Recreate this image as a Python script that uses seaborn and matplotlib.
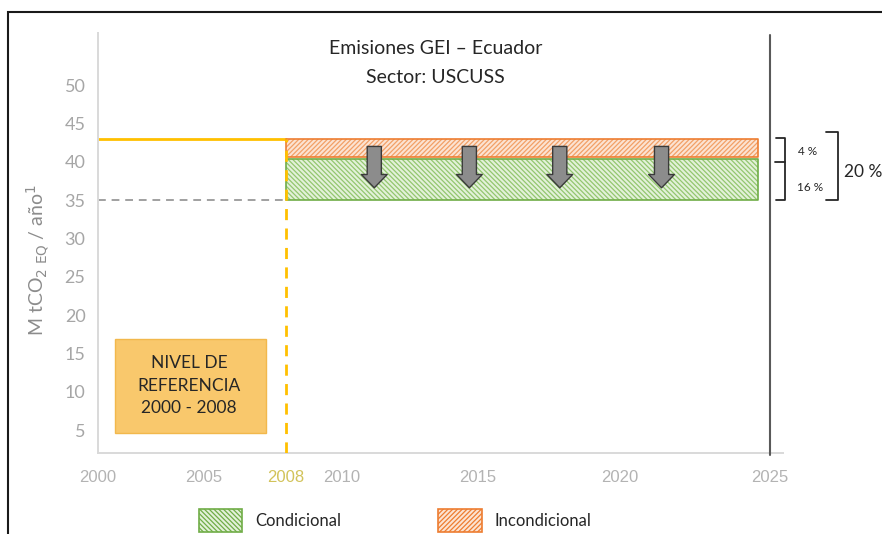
import numpy as np
import pandas as pd
import matplotlib
matplotlib.use("Agg")
import matplotlib.pyplot as plt
import matplotlib.transforms as mtransforms
from matplotlib.patches import Patch, Rectangle
import seaborn as sns

# ---------------------------------------------------------------
# Data
# ---------------------------------------------------------------
ref_years = [2000, 2008]          # reference period 2000 - 2008
ref_level = 43.0                  # reference emission level (Mt CO2 eq / yr)
target_years = [2008, 2024.6]     # commitment period drawn as bands
uncond_low = 40.6                 # top band: unconditional reduction (4 %)
cond_top = 40.3                   # bottom band: conditional reduction (16 %)
cond_low = 35.0
arrow_years = [2011.2, 2014.7, 2017.9, 2021.4]
x_ticks = [2000, 2005, 2008, 2010, 2015, 2020, 2025]
y_ticks = [5, 10, 15, 20, 25, 30, 35, 40, 45, 50]
pct_labels = ["4 %", "16 %", "20 %"]
legend_labels = ["Condicional", "Incondicional"]

# the original illustration spaces the years unevenly -> piecewise scale
SCALE_YEARS = [1990, 2000, 2005, 2008, 2010, 2015, 2020, 2025, 2035]
SCALE_POS = [-114, 98, 204, 286, 342, 478, 620, 771, 1071]


def fwd(x):
    return np.interp(x, SCALE_YEARS, SCALE_POS)


def inv(p):
    return np.interp(p, SCALE_POS, SCALE_YEARS)


# colours
YELLOW = "#ffc000"
GREEN_FILL = "#e3f1d9"
GREEN_HATCH = "#93c66f"
GREEN_EDGE = "#70ad47"
ORANGE_FILL = "#fce3d2"
ORANGE_HATCH = "#f2a066"
ORANGE_EDGE = "#ed7d31"
GRAY_TXT = "#a6a6a6"

# ---------------------------------------------------------------
# Figure
# ---------------------------------------------------------------
sns.set_theme(style="white")
plt.rcParams["font.family"] = ["Lato", "DejaVu Sans"]
plt.rcParams["hatch.linewidth"] = 0.9

fig = plt.figure(figsize=(8.82, 5.34), dpi=100)
ax = fig.add_axes([98 / 882, 1 - 453 / 534, 685 / 882, 420 / 534])
ax.set_xscale("function", functions=(fwd, inv))
ax.set_xlim(2000, 2025.43)
ax.set_ylim(2.0, 56.8)

# reference level line (solid) and dashed target level
ref_df = pd.DataFrame({"year": ref_years, "value": [ref_level, ref_level]})
sns.lineplot(data=ref_df, x="year", y="value", ax=ax, color=YELLOW, lw=2.0)
low_df = pd.DataFrame({"year": ref_years, "value": [cond_low, cond_low]})
sns.lineplot(data=low_df, x="year", y="value", ax=ax, color="#a0a0a0",
             lw=1.4, linestyle=(0, (4, 3)))

# vertical dashed marker at 2008
ax.plot([ref_years[1], ref_years[1]], [2.0, ref_level], color=YELLOW,
        lw=2.0, linestyle=(0, (4, 3)), zorder=4)

# hatched reduction bands (hatch first, then the outline)
ax.fill_between(target_years, uncond_low, ref_level, facecolor=ORANGE_FILL,
                edgecolor=ORANGE_HATCH, hatch="/" * 7, lw=0, zorder=2)
ax.fill_between(target_years, uncond_low, ref_level, facecolor="none",
                edgecolor=ORANGE_EDGE, lw=1.2, zorder=2)
ax.fill_between(target_years, cond_low, cond_top, facecolor=GREEN_FILL,
                edgecolor=GREEN_HATCH, hatch="\\" * 7, lw=0, zorder=2)
ax.fill_between(target_years, cond_low, cond_top, facecolor="none",
                edgecolor=GREEN_EDGE, lw=1.2, zorder=2)

# down arrows
for yr in arrow_years:
    ax.annotate("", xy=(yr, 36.6), xytext=(yr, 42.0),
                arrowprops=dict(arrowstyle="simple,head_length=0.8,head_width=1.55,tail_width=0.85",
                                fc="#8c8c8c", ec="#3a3a3a", lw=1.0, shrinkA=0, shrinkB=0),
                zorder=5)

# dark vertical line at 2025
ax.plot([2025, 2025], [1.7, 56.6], color="#595959", lw=1.5, clip_on=False, zorder=3)

# reference-level box
ax.add_patch(Rectangle((2000.8, 4.6), 2007.27 - 2000.8, 16.9 - 4.6,
                       facecolor="#f9c86c", edgecolor="#f2b84c", lw=1.0, zorder=3))
ax.text(2004.3, 10.8, "NIVEL DE\nREFERENCIA\n2000 - 2008", ha="center", va="center",
        fontsize=12.5, color="#262626", linespacing=1.5, zorder=4)

# title
ax.text(0.493, 0.962, "Emisiones GEI \u2013 Ecuador", transform=ax.transAxes,
        ha="center", va="center", fontsize=14, color="#262626")
ax.text(0.493, 0.895, "Sector: USCUSS", transform=ax.transAxes,
        ha="center", va="center", fontsize=14, color="#262626")

# axes styling
ax.set_xticks(x_ticks)
ax.set_xticklabels([str(t) for t in x_ticks], fontfamily="Liberation Sans")
ax.set_yticks(y_ticks)
ax.tick_params(axis="x", length=0, pad=12, labelsize=12, colors="#b3b3b3")
ax.tick_params(axis="y", length=0, pad=9, labelsize=13, colors=GRAY_TXT)
ax.get_xticklabels()[x_ticks.index(2008)].set_color("#d2c35a")
for side in ["top", "right"]:
    ax.spines[side].set_visible(False)
for side in ["left", "bottom"]:
    ax.spines[side].set_color("#d9d9d9")
    ax.spines[side].set_linewidth(1.4)
ax.set_xlabel("")
ax.set_ylabel(r"M tCO$_{2\ \mathrm{EQ}}$ / año$^{1}$", fontsize=14, color="#8c8c8c")
ax.yaxis.set_label_coords(-0.068, 0.46)
ax.grid(False)

# brackets with percentages (right of the plot)
tr = mtransforms.blended_transform_factory(fig.transFigure, ax.transData)
W = 882.0
sb = dict(color="#262626", lw=1.3, transform=tr, clip_on=False)
ax.plot(np.array([776, 785, 785, 776]) / W, [43.1, 43.1, 35.0, 35.0], **sb)
ax.plot(np.array([775, 785]) / W, [40.0, 40.0], **sb)
ax.plot(np.array([826, 838, 838, 826]) / W, [43.9, 43.9, 35.0, 35.0], **sb)
ax.text(808 / W, 41.3, pct_labels[0], transform=tr, ha="center", va="center",
        fontsize=8.5, color="#262626")
ax.text(810 / W, 36.7, pct_labels[1], transform=tr, ha="center", va="center",
        fontsize=8.5, color="#262626")
ax.text(844 / W, 38.7, pct_labels[2], transform=tr, ha="left", va="center",
        fontsize=12.5, color="#262626")

# legend at the bottom
handles = [
    Patch(facecolor=GREEN_FILL, edgecolor=GREEN_EDGE, hatch="\\" * 7, lw=1.2),
    Patch(facecolor=ORANGE_FILL, edgecolor=ORANGE_EDGE, hatch="/" * 7, lw=1.2),
]
fig.legend(handles, legend_labels, loc="upper left",
           bbox_to_anchor=(199 / W, 1 - 509 / 534), ncol=2, frameon=False,
           fontsize=12, handlelength=2.6, handleheight=1.7,
           handletextpad=0.8, columnspacing=5.8, borderpad=0, borderaxespad=0)

# outer frame of the original figure
fig.patches.append(Rectangle((8 / W, -0.2), 1.2, 1 - 12 / 534 + 0.2,
                             transform=fig.transFigure, fill=False,
                             edgecolor="#1a1a1a", lw=1.5, clip_on=False))

fig.savefig("out.png", dpi=100)
print("saved out.png")
